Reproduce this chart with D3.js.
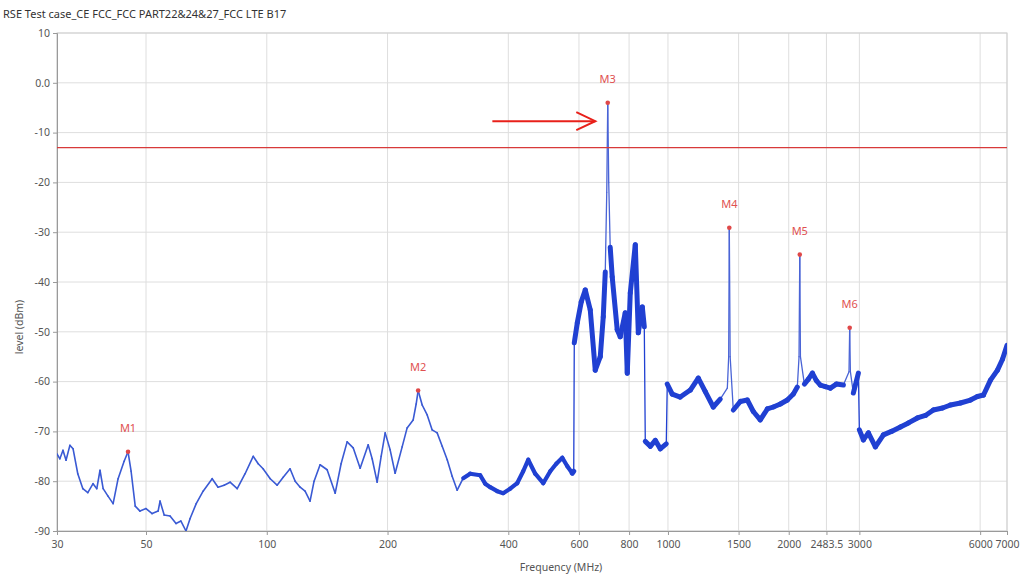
<!DOCTYPE html>
<html><head><meta charset="utf-8">
<script src="https://cdn.jsdelivr.net/npm/d3@7"></script>
<style>body{margin:0;background:#fff;} svg{display:block;font-family:"Noto Sans","DejaVu Sans",sans-serif;}</style>
</head><body><svg id="c" width="1021" height="578"></svg>
<script>
// ---- data ----
const chartTitle = "RSE Test case_CE FCC_FCC PART22&24&27_FCC LTE B17";
const freqMHz = [30,30.5,31.05,31.6,32.3,32.9,33.8,34.8,35.8,36.9,37.7,38.4,39.1,40.2,41.4,42.6,44.1,45.1,45.9,47.0,
 48.3,50.0,51.8,53.6,54.2,55.5,57.4,59.4,61.1,62.9,64.4,66.7,69.4,73.1,75.6,78.3,81.0,84.4,88.3,92.5,
 95.2,97.9,102.0,106.1,109.9,114.3,117.7,121.1,124.6,128.2,131.2,135.8,141.4,148.1,153.2,158.6,164.2,170.9,179.0,183.1,
 188.4,192.8,197.3,203.0,208.9,217.5,223.8,231.7,235.7,238.4,244.0,251.1,258.4,265.9,273.7,281.7,289.8,298.3,308.8,321.4,
 340.4,350.3,360.5,375.3,388.4,404.4,420.9,435.7,448.4,466.8,488.8,508.9,526.8,545.3,561.2,577.5,582.3,584.1,594.3,607.9,
 622.1,640.2,658.8,678.1,689.8,697.8,703.8,707.8,711.8,717.9,726.2,747.4,760.4,782.6,791.7,805.5,829.0,843.5,863.1,873.0,
 878.0,903.6,930.0,956.8,990.3,996.0,1025,1073,1137,1190,1239,1297,1350,1406,1417,1422,1429,1455,1515,1577,
 1632,1699,1769,1831,1906,1984,2054,2101,2122,2131,2139,2188,2239,2291,2344,2398,2468,2540,2629,2737,
 2827,2838,2849,2898,2983,3000,3070,3159,3289,3444,3606,3797,3976,4186,4383,4588,4834,5061,5359,5675,
 5909,6117,6367,6628,6822,7000];
const levelDbm = [-74.5,-75.5,-73.8,-75.8,-72.8,-73.5,-78.5,-81.5,-82.3,-80.5,-81.5,-77.8,-81.5,-83.0,-84.5,-79.5,-76.0,-74.1,-78.0,-85.0,
 -86.0,-85.5,-86.5,-86.0,-84.0,-86.8,-87.0,-88.5,-88.0,-90.0,-87.5,-84.5,-82.0,-79.5,-81.2,-80.8,-80.2,-81.5,-78.5,-75.0,
 -76.5,-77.5,-79.5,-80.8,-79.2,-77.5,-80.0,-81.2,-82.0,-84.0,-80.0,-76.7,-77.7,-82.4,-76.5,-72.1,-73.3,-77.4,-72.7,-75.5,
 -80.2,-75.0,-70.3,-73.7,-78.4,-73.1,-69.3,-67.7,-64.5,-61.8,-64.7,-66.7,-69.7,-70.3,-73.0,-75.7,-79.0,-81.8,-79.4,-78.5,
 -78.8,-80.5,-81.2,-82.0,-82.4,-81.5,-80.4,-78.0,-75.7,-78.5,-80.4,-78.0,-76.5,-75.3,-77.0,-78.4,-78.0,-52.2,-48.2,-44.0,
 -41.6,-45.6,-57.7,-55.0,-47.0,-38.0,-22.0,-4.0,-20.0,-33.0,-39.0,-49.6,-51.0,-46.2,-58.3,-42.2,-32.5,-50.2,-45.0,-49.0,
 -72.0,-73.0,-71.8,-73.5,-72.5,-60.5,-62.5,-63.1,-61.7,-59.3,-62.0,-65.1,-63.5,-61.3,-55.0,-29.1,-55.0,-65.7,-64.0,-63.7,
 -66.0,-67.7,-65.5,-65.1,-64.5,-63.7,-62.5,-61.1,-55.0,-34.5,-55.0,-60.5,-59.5,-58.3,-59.8,-60.7,-61.0,-61.3,-60.5,-60.7,
 -58.0,-49.2,-58.0,-62.3,-58.3,-69.7,-71.7,-70.3,-73.1,-70.7,-70.0,-69.1,-68.3,-67.3,-66.8,-65.7,-65.3,-64.7,-64.3,-63.7,
 -63.0,-62.7,-59.7,-57.7,-55.5,-52.7];
// trace thickness (px) by frequency band
const bandStartMHz = [30, 300, 574, 3000];
const bandThickPx = [1.6, 4.2, 5, 5];

const markerNames = ["M1","M2","M3","M4","M5","M6"];
const markerFreq = [45.1, 238.4, 707.8, 1422, 2131, 2838];
const markerLevel = [-74.1, -61.8, -4.0, -29.1, -34.5, -49.2];

const limitDbm = -13;
const xTicks = [30,50,100,200,400,600,800,1000,1500,2000,2483.5,3000,6000,7000];
const yTicks = [10,0,-10,-20,-30,-40,-50,-60,-70,-80,-90];
const arrowFreq = [365, 659];
const arrowLevel = [-7.7, -7.7];

// ---- drawing ----
const W = 1021, H = 578;
const m = {l:57, r:14, t:33, b:47};
const svg = d3.select("#c");
const x = d3.scaleLog().domain([30,7000]).range([m.l, W-m.r]);
const y = d3.scaleLinear().domain([-90,10]).range([H-m.b, m.t]);

svg.append("text").attr("x",3).attr("y",18).attr("font-size",11).attr("fill","#333").text(chartTitle);

svg.append("defs").append("clipPath").attr("id","clip").append("rect")
  .attr("x",m.l).attr("y",m.t).attr("width",W-m.l-m.r).attr("height",H-m.t-m.b);

// grid
const g = svg.append("g");
g.selectAll(".vg").data(xTicks).join("line")
  .attr("x1",d=>x(d)).attr("x2",d=>x(d)).attr("y1",m.t).attr("y2",H-m.b)
  .attr("stroke","#dedede").attr("stroke-width",1);
g.selectAll(".hg").data(yTicks).join("line")
  .attr("x1",m.l).attr("x2",W-m.r).attr("y1",d=>y(d)).attr("y2",d=>y(d))
  .attr("stroke","#dedede").attr("stroke-width",1);
svg.append("rect").attr("x",m.l).attr("y",m.t).attr("width",W-m.l-m.r).attr("height",H-m.t-m.b)
  .attr("fill","none").attr("stroke","#cfcfcf");

// axes
const xAxis = d3.axisBottom(x).tickValues(xTicks).tickSize(4).tickPadding(6)
  .tickFormat(d=>String(d));
const gx = svg.append("g").attr("transform",`translate(0,${H-m.b})`).call(xAxis);
const yAxis = d3.axisLeft(y).tickValues(yTicks).tickSize(4).tickPadding(3)
  .tickFormat(d=> d===0 ? "0.0" : String(d));
const gy = svg.append("g").attr("transform",`translate(${m.l},0)`).call(yAxis);
[gx,gy].forEach(a=>{
  a.select(".domain").attr("stroke","#9a9a9a");
  a.selectAll(".tick line").attr("stroke","#9a9a9a");
  a.selectAll(".tick text").attr("fill","#555").attr("font-size",10.5).attr("font-family","'Noto Sans',sans-serif");
});

svg.append("text").attr("x",561).attr("y",571).attr("text-anchor","middle")
  .attr("font-size",10.5).attr("fill","#555").text("Frequency (MHz)");
svg.append("text").attr("transform","translate(23,327) rotate(-90)").attr("text-anchor","middle")
  .attr("font-size",10.5).attr("fill","#555").text("level (dBm)");

// trace: segments; spike segments (near a marker above the noise) are thin
const nearSpike = f => markerFreq.some((mf,i)=> i>=2 && Math.abs(f/mf-1) < 0.012);
const thick = f => { let k=0; bandStartMHz.forEach((b,j)=>{ if (f>=b) k=j; }); return bandThickPx[k]; };
const segs = d3.pairs(freqMHz.map((f,i)=>({f, v: levelDbm[i]})));
const plot = svg.append("g").attr("clip-path","url(#clip)");
plot.selectAll(".sp").data(segs.filter(([a,b])=> nearSpike(a.f) || nearSpike(b.f))).join("line")
  .attr("x1",d=>x(d[0].f)).attr("y1",d=>y(d[0].v)).attr("x2",d=>x(d[1].f)).attr("y2",d=>y(d[1].v))
  .attr("stroke","#4a64d6").attr("stroke-width",1.3).attr("stroke-linecap","round");
plot.selectAll(".ns").data(segs.filter(([a,b])=> !(nearSpike(a.f) || nearSpike(b.f)))).join("line")
  .attr("x1",d=>x(d[0].f)).attr("y1",d=>y(d[0].v)).attr("x2",d=>x(d[1].f)).attr("y2",d=>y(d[1].v))
  .attr("stroke",d=> d[0].f < 300 ? "#3a5ad4" : "#2040d2")
  .attr("stroke-width",d=> {
      const jump = Math.abs(y(d[1].v)-y(d[0].v)) > 40 && Math.abs(x(d[1].f)-x(d[0].f)) < 2;
      return jump ? 1.3 : thick(d[0].f);
  })
  .attr("stroke-linecap","round");

// limit line
svg.append("line").attr("x1",m.l).attr("x2",W-m.r).attr("y1",y(limitDbm)).attr("y2",y(limitDbm))
  .attr("stroke","#d83a3a").attr("stroke-width",1.2);

// markers
const mk = svg.append("g");
markerNames.forEach((n,i)=>{
  const cx = x(markerFreq[i]), cy = y(markerLevel[i]);
  mk.append("circle").attr("cx",cx).attr("cy",cy).attr("r",2.3).attr("fill","#e04848");
  mk.append("text").attr("x",cx).attr("y",cy-20).attr("text-anchor","middle")
    .attr("font-size",11).attr("fill","#e05050").text(n);
});

// annotation arrow
const ax1 = x(arrowFreq[0]), ax2 = x(arrowFreq[1]), ay = y(arrowLevel[0]);
svg.append("line").attr("x1",ax1).attr("x2",ax2).attr("y1",ay).attr("y2",ay)
  .attr("stroke","#e8201a").attr("stroke-width",2);
svg.append("path").attr("d",`M${ax2-19},${ay-9} L${ax2},${ay} L${ax2-19},${ay+9}`)
  .attr("fill","none").attr("stroke","#e8201a").attr("stroke-width",2);
</script></body></html>
